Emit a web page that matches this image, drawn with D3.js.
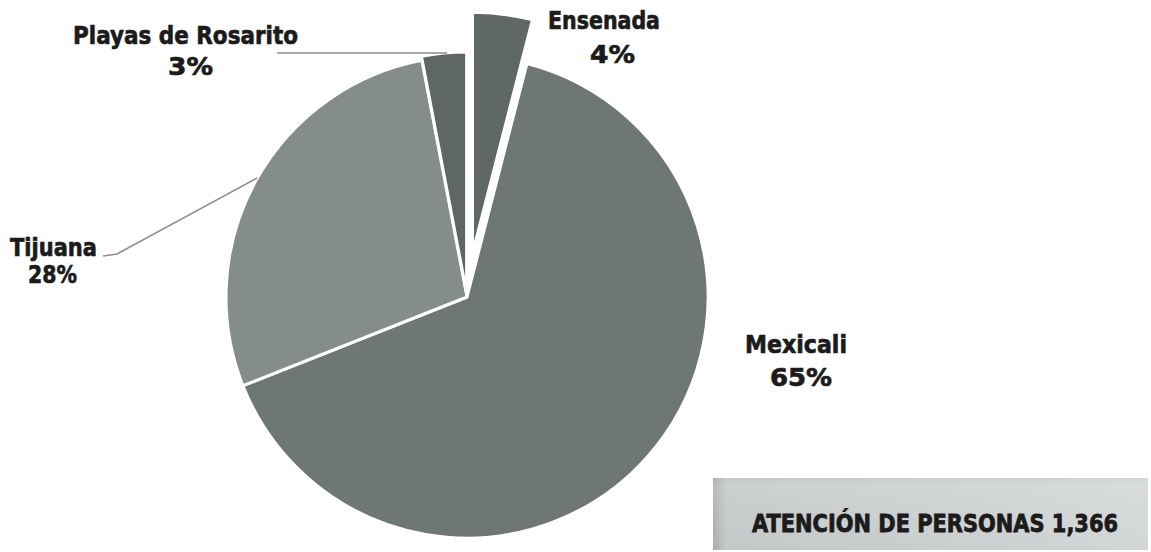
<!DOCTYPE html>
<html>
<head>
<meta charset="utf-8">
<script src="https://cdn.jsdelivr.net/npm/d3@7"></script>
<style>
  html, body { margin: 0; padding: 0; background: #ffffff; }
  svg { display: block; }
  text { font-family: "DejaVu Sans", Verdana, sans-serif; font-weight: bold; fill: #1b1b1b; stroke: #1b1b1b; stroke-width: 0.7px; }
</style>
</head>
<body>
<svg id="chart" width="1151" height="552"></svg>
<script>
// ---- data ----
const categories = ["Ensenada", "Mexicali", "Tijuana", "Playas de Rosarito"];
const values = [4, 65, 28, 3];
const percentLabels = ["4%", "65%", "28%", "3%"];
const sliceColors = ["#5f6866", "#6e7775", "#858d8b", "#5e6765"];
const explode = [44, 0, 0, 4];
const totalLabel = "ATENCIÓN DE PERSONAS 1,366";

// ---- layout ----
const svg = d3.select("#chart");
const cx = 467, cy = 297, R = 241;

const pie = d3.pie().sort(null).value(d => d.v).startAngle(0).endAngle(2 * Math.PI);
const arcs = pie(categories.map((c, i) => ({ c, v: values[i], i })));
const arc = d3.arc().innerRadius(0).outerRadius(R);

const g = svg.append("g").attr("transform", `translate(${cx},${cy})`);
g.selectAll("path.slice")
  .data(arcs)
  .join("path")
  .attr("class", "slice")
  .attr("d", arc)
  .attr("fill", d => sliceColors[d.data.i])
  .attr("stroke", "#ffffff")
  .attr("stroke-width", 3)
  .attr("stroke-linejoin", "round")
  .attr("transform", d => {
    const a = (d.startAngle + d.endAngle) / 2;
    const o = explode[d.data.i];
    return `translate(${o * Math.sin(a)},${-o * Math.cos(a)})`;
  });

// ---- leader lines ----
const leader = d3.line();
svg.append("path")
  .attr("d", leader([[277, 53], [447, 53]]))
  .attr("fill", "none").attr("stroke", "#8a8f8e").attr("stroke-width", 1.6);
svg.append("path")
  .attr("d", leader([[103, 256], [117, 254], [257, 178]]))
  .attr("fill", "none").attr("stroke", "#8a8f8e").attr("stroke-width", 1.6);

// ---- labels ----
const labelPos = [
  { name: [548, 29, 112], pct: [590, 63, 45] },   // Ensenada
  { name: [745, 353, 102], pct: [770, 386, 62] }, // Mexicali
  { name: [10, 256, 87], pct: [28, 283, 49] },    // Tijuana
  { name: [73, 44, 225], pct: [168, 75, 45] }     // Playas
];
categories.forEach((c, i) => {
  const p = labelPos[i];
  svg.append("text")
    .attr("x", p.name[0]).attr("y", p.name[1])
    .attr("font-size", 25)
    .attr("textLength", p.name[2]).attr("lengthAdjust", "spacingAndGlyphs")
    .text(c);
  svg.append("text")
    .attr("x", p.pct[0]).attr("y", p.pct[1])
    .attr("font-size", 25)
    .attr("textLength", p.pct[2]).attr("lengthAdjust", "spacingAndGlyphs")
    .text(percentLabels[i]);
});

// ---- total box ----
const defs = svg.append("defs");
const grad = defs.append("linearGradient").attr("id", "boxGrad")
  .attr("x1", "0%").attr("x2", "100%").attr("y1", "0%").attr("y2", "0%");
grad.append("stop").attr("offset", "0%").attr("stop-color", "#a9adad");
grad.append("stop").attr("offset", "3%").attr("stop-color", "#c3c7c7");
grad.append("stop").attr("offset", "60%").attr("stop-color", "#cbcfcf");
grad.append("stop").attr("offset", "100%").attr("stop-color", "#d3d6d6");
const gradV = defs.append("linearGradient").attr("id", "boxTop")
  .attr("x1", "0%").attr("x2", "0%").attr("y1", "0%").attr("y2", "100%");
gradV.append("stop").attr("offset", "0%").attr("stop-color", "#ffffff").attr("stop-opacity", 0.0);
gradV.append("stop").attr("offset", "8%").attr("stop-color", "#ffffff").attr("stop-opacity", 0.15);
gradV.append("stop").attr("offset", "100%").attr("stop-color", "#ffffff").attr("stop-opacity", 0.0);

svg.append("rect").attr("x", 713).attr("y", 478).attr("width", 435).attr("height", 72)
  .attr("fill", "url(#boxGrad)");
svg.append("rect").attr("x", 713).attr("y", 478).attr("width", 435).attr("height", 72)
  .attr("fill", "url(#boxTop)");
svg.append("text")
  .attr("transform", "translate(752,532) scale(1,1.2)")
  .attr("x", 0).attr("y", 0)
  .attr("font-size", 21)
  .attr("textLength", 366).attr("lengthAdjust", "spacingAndGlyphs")
  .text(totalLabel);
</script>
</body>
</html>
